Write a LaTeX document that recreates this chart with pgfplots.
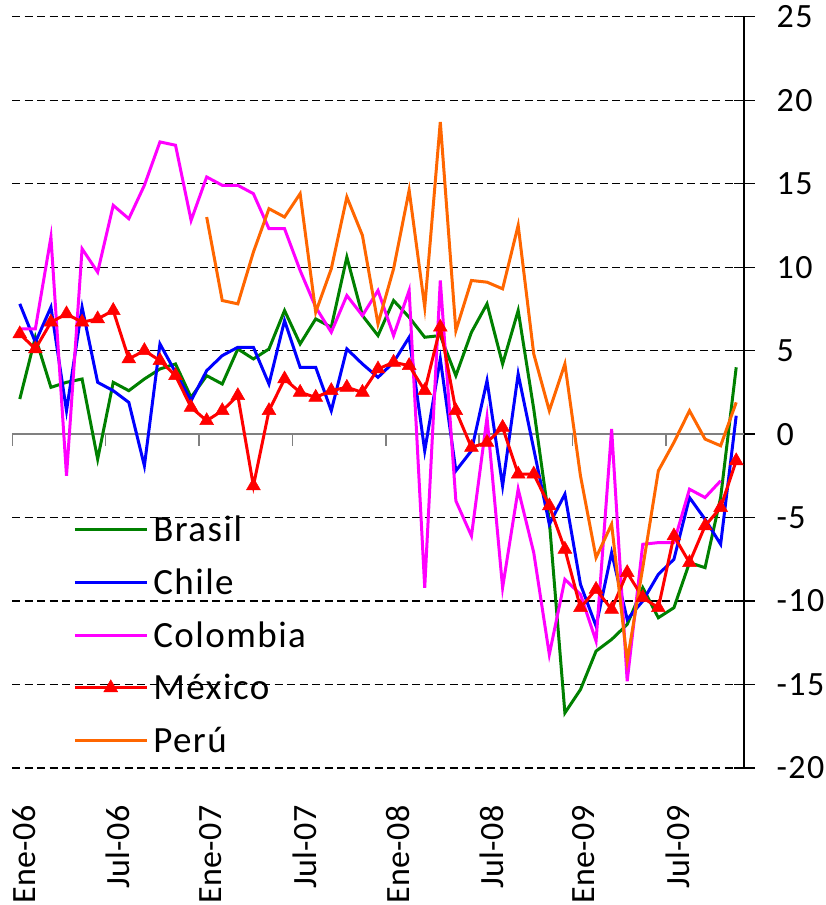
\documentclass[border=0pt]{standalone}
\usepackage{fontspec}
\setmainfont{Carlito}
\newfontfamily\carl[LetterSpace=4]{Carlito}
\newfontfamily\carlx[LetterSpace=1]{Carlito}
\usepackage{pgfplots}
\pgfplotsset{compat=1.18}
\definecolor{cBra}{RGB}{0,128,0}
\definecolor{cChi}{RGB}{0,0,255}
\definecolor{cCol}{RGB}{255,0,255}
\definecolor{cMex}{RGB}{255,0,0}
\definecolor{cPer}{RGB}{255,102,0}
\newcommand{\tickfont}{\carl\fontsize{34bp}{40bp}\selectfont}
\newcommand{\xtickfont}{\carlx\fontsize{34bp}{40bp}\selectfont}
\newcommand{\legfont}{\carl\fontsize{37bp}{44bp}\selectfont}
\begin{document}
\begin{tikzpicture}
\useasboundingbox (-12bp,-137bp) rectangle (814bp,768bp);
\begin{axis}[
  at={(0,0)}, anchor=south west,
  width=732bp, height=751.3bp, scale only axis,
  xmin=0, xmax=47, ymin=-20, ymax=25,
  axis y line*=right, axis x line*=bottom,
  x axis line style={draw=none},
  y axis line style={black, line width=1.5bp, -},
  xtick={0,6,12,18,24,30,36,42},
  xticklabels={Ene-06,Jul-06,Ene-07,Jul-07,Ene-08,Jul-08,Ene-09,Jul-09},
  xtick style={draw=none},
  major x tick style={draw=none},
  xticklabel style={rotate=90, anchor=north east, inner sep=0pt, font=\xtickfont},
  xticklabel shift=27bp,
  ytick={-20,-15,-10,-5,0,5,10,15,20,25},
  yticklabels={-20,-15,-10,-5,0,5,10,15,20,25},
  yticklabel style={anchor=west, inner sep=0pt, font=\tickfont},
  yticklabel shift=22bp,
  tick align=center,
  major tick length=21bp,
  ytick style={black, line width=1.2bp},
  ymajorgrids,
  grid style={black, line width=1.2bp, dash pattern=on 8bp off 4.5bp},
  legend style={draw=none, fill=none, font=\legfont, at={(axis cs:3.92,-12.04)}, anchor=west,
    row sep=28.7bp, inner sep=0pt,
    nodes={inner sep=0pt, text height=24bp, text depth=0bp},
    /tikz/every odd column/.append style={column sep=5bp}},
  legend cell align=left,
  legend image code/.code={\draw[mark repeat=2,mark phase=2,#1] plot coordinates {(0bp,0bp) (36bp,0bp) (72bp,0bp)};},
  every axis plot/.append style={line width=3bp, line join=miter},
]
\draw[color=gray, line width=2bp] (axis cs:0,0) -- (axis cs:47,0);
\draw[color=gray, line width=1.5bp] (axis cs:0,0) -- (axis cs:0,-0.72) (axis cs:6,0) -- (axis cs:6,-0.72) (axis cs:12,0) -- (axis cs:12,-0.72) (axis cs:18,0) -- (axis cs:18,-0.72) (axis cs:24,0) -- (axis cs:24,-0.72) (axis cs:30,0) -- (axis cs:30,-0.72) (axis cs:36,0) -- (axis cs:36,-0.72) (axis cs:42,0) -- (axis cs:42,-0.72);
\addplot[cBra, no markers] coordinates {
(0.5,2.1)(1.5,5.8)(2.5,2.8)(3.5,3.1)(4.5,3.3)(5.5,-1.5)(6.5,3.1)(7.5,2.6)(8.5,3.3)(9.5,3.9)
(10.5,4.2)(11.5,2.2)(12.5,3.5)(13.5,3.0)(14.5,5.1)(15.5,4.5)(16.5,5.1)(17.5,7.4)(18.5,5.4)(19.5,6.9)
(20.5,6.4)(21.5,10.6)(22.5,7.1)(23.5,5.9)(24.5,8.0)(25.5,7.0)(26.5,5.8)(27.5,5.9)(28.5,3.5)(29.5,6.1)
(30.5,7.8)(31.5,4.2)(32.5,7.4)(33.5,1.5)(34.5,-5.2)(35.5,-16.7)(36.5,-15.3)(37.5,-13.0)(38.5,-12.3)(39.5,-11.4)
(40.5,-9.2)(41.5,-11.0)(42.5,-10.4)(43.5,-7.7)(44.5,-8.0)(45.5,-3.8)(46.5,4.0)};
\addlegendentry{Brasil}
\addplot[cChi, no markers] coordinates {
(0.5,7.8)(1.5,5.5)(2.5,7.6)(3.5,1.4)(4.5,7.6)(5.5,3.1)(6.5,2.6)(7.5,1.9)(8.5,-1.9)(9.5,5.4)
(10.5,3.7)(11.5,2.0)(12.5,3.8)(13.5,4.7)(14.5,5.2)(15.5,5.2)(16.5,3.0)(17.5,6.8)(18.5,4.0)(19.5,4.0)
(20.5,1.4)(21.5,5.1)(22.5,4.2)(23.5,3.4)(24.5,4.3)(25.5,5.8)(26.5,-1.0)(27.5,4.5)(28.5,-2.2)(29.5,-1.0)
(30.5,3.2)(31.5,-3.1)(32.5,3.6)(33.5,-0.9)(34.5,-5.4)(35.5,-3.6)(36.5,-9.0)(37.5,-11.5)(38.5,-7.1)(39.5,-11.1)
(40.5,-10.0)(41.5,-8.4)(42.5,-7.5)(43.5,-3.8)(44.5,-5.1)(45.5,-6.6)(46.5,1.1)};
\addlegendentry{Chile}
\addplot[cCol, no markers] coordinates {
(0.5,6.3)(1.5,6.3)(2.5,11.8)(3.5,-2.5)(4.5,11.1)(5.5,9.7)(6.5,13.7)(7.5,12.9)(8.5,14.9)(9.5,17.5)
(10.5,17.3)(11.5,12.8)(12.5,15.4)(13.5,14.9)(14.5,14.9)(15.5,14.4)(16.5,12.3)(17.5,12.3)(18.5,9.8)(19.5,7.6)
(20.5,6.1)(21.5,8.3)(22.5,7.1)(23.5,8.6)(24.5,5.9)(25.5,8.6)(26.5,-9.2)(27.5,9.2)(28.5,-4.0)(29.5,-6.1)
(30.5,1.0)(31.5,-9.2)(32.5,-3.3)(33.5,-7.1)(34.5,-13.2)(35.5,-8.7)(36.5,-9.6)(37.5,-12.4)(38.5,0.3)(39.5,-14.8)
(40.5,-6.6)(41.5,-6.5)(42.5,-6.5)(43.5,-3.3)(44.5,-3.8)(45.5,-2.8)};
\addlegendentry{Colombia}
\addplot[cMex, mark=triangle*, mark size=8bp, mark options={solid, fill=cMex, draw=cMex, line width=0.5bp}] coordinates {
(0.5,6.0)(1.5,5.1)(2.5,6.7)(3.5,7.2)(4.5,6.7)(5.5,6.9)(6.5,7.4)(7.5,4.5)(8.5,5.0)(9.5,4.4)
(10.5,3.5)(11.5,1.6)(12.5,0.8)(13.5,1.4)(14.5,2.3)(15.5,-3.1)(16.5,1.4)(17.5,3.3)(18.5,2.5)(19.5,2.2)
(20.5,2.6)(21.5,2.8)(22.5,2.5)(23.5,3.9)(24.5,4.3)(25.5,4.1)(26.5,2.6)(27.5,6.4)(28.5,1.4)(29.5,-0.8)
(30.5,-0.5)(31.5,0.4)(32.5,-2.4)(33.5,-2.4)(34.5,-4.3)(35.5,-6.9)(36.5,-10.4)(37.5,-9.3)(38.5,-10.5)(39.5,-8.3)
(40.5,-9.8)(41.5,-10.4)(42.5,-6.1)(43.5,-7.7)(44.5,-5.5)(45.5,-4.4)(46.5,-1.6)};
\addlegendentry{México}
\addplot[cPer, no markers] coordinates {
(12.5,13.0)(13.5,8.0)(14.5,7.8)(15.5,10.9)(16.5,13.5)(17.5,13.0)(18.5,14.4)(19.5,7.3)
(20.5,9.9)(21.5,14.2)(22.5,11.9)(23.5,6.6)(24.5,9.9)(25.5,14.6)(26.5,7.6)(27.5,18.7)(28.5,6.2)(29.5,9.2)
(30.5,9.1)(31.5,8.7)(32.5,12.5)(33.5,4.8)(34.5,1.4)(35.5,4.2)(36.5,-2.5)(37.5,-7.4)(38.5,-5.4)(39.5,-13.6)
(40.5,-8.0)(41.5,-2.2)(42.5,-0.5)(43.5,1.4)(44.5,-0.3)(45.5,-0.7)(46.5,1.9)};
\addlegendentry{Perú}
\end{axis}
\end{tikzpicture}
\end{document}
